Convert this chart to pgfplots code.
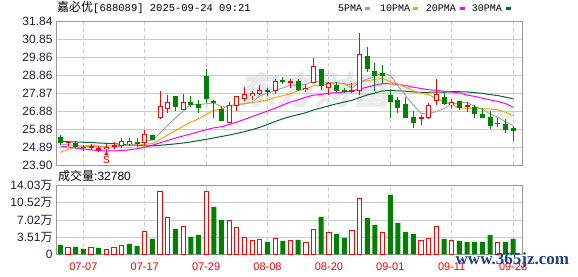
\documentclass[border=0pt]{standalone}
\usepackage{fontspec}
\usepackage{pgfplots}
\pgfplotsset{compat=1.18}
\usepackage{pgfplotstable}
\setmainfont{Liberation Sans}
\newfontfamily\cjk{Noto Sans CJK SC}
\newfontfamily\mono{Liberation Mono}
\newfontfamily\wmfont[FakeSlant=0.2]{Noto Sans CJK SC}
\newfontfamily\serifb{Liberation Serif}
\definecolor{kred}{HTML}{FF0000}
\definecolor{kgreen}{HTML}{008000}
\definecolor{ma5c}{HTML}{A0A0A0}
\definecolor{ma10c}{HTML}{FFA500}
\definecolor{ma20c}{HTML}{FF00FF}
\definecolor{ma30c}{HTML}{006633}
\definecolor{gridc}{HTML}{CCCCCC}
\definecolor{framec}{HTML}{999999}
\definecolor{labc}{HTML}{1E1E3C}
\definecolor{wmc}{HTML}{EAEAEE}
\definecolor{jzc}{HTML}{1F3F7F}

\pgfplotstableread{
i o h l c v vu cu ma5 ma10 ma20 ma30
0 25.45 25.56 25.01 25.16 1.91 0 0 25.06 24.60 24.95 25.20
1 25.12 25.25 24.95 25.18 1.43 1 1 25.02 24.76 24.90 25.19
2 25.10 25.25 24.84 24.92 1.50 0 0 24.98 24.88 24.84 25.18
3 24.90 25.03 24.68 24.84 1.09 0 0 24.95 24.92 24.79 25.16
4 24.88 25.06 24.73 24.93 1.43 1 1 25.01 24.94 24.74 25.15
5 24.75 24.97 24.62 24.80 1.30 0 1 24.93 24.95 24.70 25.12
6 24.79 25.10 24.64 24.90 1.02 1 1 24.88 24.95 24.68 25.10
7 24.92 25.16 24.77 24.97 1.30 1 1 24.89 24.96 24.68 25.08
8 24.97 25.40 24.84 25.21 1.84 1 1 24.96 24.98 24.70 25.05
9 25.07 25.40 24.95 25.19 2.11 0 1 25.02 25.01 24.74 25.01
10 25.17 25.40 24.92 25.08 1.70 0 0 25.07 25.00 24.80 24.98
11 25.14 25.84 25.01 25.60 4.57 1 1 25.21 25.05 24.88 24.96
12 25.54 25.56 25.28 25.32 3.14 0 0 25.28 25.09 25.00 24.96
13 26.50 28.00 26.47 27.15 12.88 1 1 25.67 25.32 25.13 24.99
14 27.04 27.76 26.80 27.39 7.57 1 1 26.11 25.56 25.26 25.03
15 27.70 27.72 26.91 27.13 5.18 0 0 26.52 25.80 25.39 25.07
16 26.98 27.83 26.95 27.39 5.73 1 1 26.88 26.05 25.51 25.12
17 27.39 27.70 27.11 27.26 3.54 0 0 27.26 26.27 25.62 25.18
18 27.26 27.48 26.80 27.09 3.95 0 0 27.25 26.46 25.74 25.25
19 28.83 29.22 27.33 27.57 12.88 1 0 27.29 26.70 25.85 25.32
20 27.43 27.50 26.52 27.37 9.68 0 0 27.34 26.93 25.96 25.40
21 26.98 27.17 26.32 26.36 7.02 0 0 27.13 27.00 26.02 25.48
22 26.24 27.41 26.24 27.22 6.95 1 1 27.12 27.19 26.14 25.56
23 27.20 27.72 26.91 27.70 5.39 1 1 27.24 27.25 26.28 25.65
24 27.57 28.24 27.44 27.83 3.48 1 1 27.30 27.29 26.43 25.75
25 27.74 28.02 27.50 27.85 2.73 1 1 27.39 27.36 26.58 25.86
26 27.87 28.33 27.76 28.05 3.07 1 1 27.73 27.43 26.74 25.99
27 28.05 28.17 27.72 27.94 2.52 0 0 27.87 27.50 26.89 26.15
28 28.02 28.65 27.85 28.53 3.27 1 1 28.04 27.64 27.05 26.31
29 28.61 28.77 28.37 28.52 2.73 0 0 28.17 27.74 27.22 26.46
30 28.50 28.65 28.15 28.55 2.73 1 1 28.32 27.85 27.39 26.59
31 28.53 28.65 28.02 28.09 2.93 0 0 28.33 28.03 27.51 26.69
32 28.05 28.37 27.94 28.17 2.32 1 1 28.37 28.12 27.66 26.80
33 28.48 29.85 28.42 29.38 5.11 1 1 28.54 28.29 27.77 26.95
34 29.20 29.20 28.07 28.31 7.63 0 0 28.50 28.34 27.81 27.06
35 28.20 28.52 27.76 28.42 4.36 1 1 28.47 28.40 27.88 27.18
36 28.33 28.52 27.94 28.00 4.16 0 0 28.46 28.39 27.91 27.29
37 28.04 28.17 27.87 27.96 3.34 0 0 28.41 28.39 27.94 27.39
38 28.00 28.42 27.91 28.05 4.91 1 1 28.15 28.35 27.99 27.48
39 28.02 31.21 27.78 30.03 11.45 1 1 28.49 28.50 28.12 27.64
40 29.94 30.45 29.07 29.24 7.43 0 0 28.66 28.57 28.21 27.78
41 29.11 29.57 27.98 28.83 6.00 0 0 28.82 28.64 28.33 27.89
42 29.00 29.44 28.42 28.85 4.36 1 0 29.00 28.71 28.41 28.01
43 27.76 28.09 26.52 27.41 12.13 0 0 28.87 28.51 28.40 28.02
44 27.46 27.69 26.76 27.09 6.41 0 0 28.28 28.39 28.36 28.01
45 27.28 27.69 26.52 26.52 4.57 0 0 27.74 28.20 28.30 27.99
46 26.56 26.89 25.97 26.24 4.16 0 0 27.22 28.02 28.21 27.95
47 26.50 26.67 26.13 26.56 2.73 1 1 26.76 27.88 28.14 27.92
48 26.50 27.32 26.45 27.20 3.27 1 1 26.72 27.80 28.07 27.93
49 27.46 28.66 27.22 27.83 5.73 1 1 26.87 27.58 28.04 27.94
50 27.67 27.91 27.22 27.32 3.14 0 0 27.03 27.39 27.98 27.93
51 27.22 27.57 27.02 27.37 2.73 1 1 27.26 27.24 27.94 27.97
52 27.41 27.45 26.95 27.09 2.73 0 0 27.36 27.06 27.89 27.96
53 27.17 27.41 26.85 27.22 2.52 0 1 27.37 27.04 27.78 27.95
54 27.09 27.20 26.52 26.76 2.52 0 0 27.15 27.01 27.70 27.91
55 26.72 27.04 26.52 26.52 2.52 0 0 26.99 27.01 27.60 27.87
56 26.56 26.89 25.91 26.08 3.95 0 0 26.73 27.00 27.51 27.80
57 26.17 26.52 25.99 26.23 2.32 1 1 26.56 26.96 27.42 27.75
58 26.17 26.43 25.69 25.84 2.52 0 0 26.29 26.83 27.31 27.66
59 25.91 26.06 25.25 25.82 3.14 0 0 26.10 26.63 27.10 27.57
}\kdata

\pgfplotsset{
  kax/.style={
    scale only axis, width=465.8pt, xmin=-0.5, xmax=60.2,
    axis line style={draw=framec, line width=1pt},
    tick style={draw=none}, major tick length=0pt,
    xtick={3,11,19,27,35,43,51,59},
    xmajorgrids, ymajorgrids,
    x grid style={dash pattern=on 4pt off 3pt, draw=gridc, line width=1pt},
    y grid style={draw=gridc, line width=1pt},
    tick label style={font=\fontsize{12}{12}\selectfont},
    yticklabel style={anchor=east, inner sep=0pt, xshift=-3.8pt, text=labc},
  }
}

\begin{document}
\begin{tikzpicture}
\useasboundingbox (0,0) rectangle (578pt,276pt);
% watermark
\node[anchor=center, inner sep=0, text=wmc] at (314pt,186pt) {\wmfont\bfseries\fontsize{38}{38}\selectfont 东方财富};

\begin{axis}[kax, at={(56.5pt,111pt)}, anchor=south west, height=143.3pt,
  ymin=23.90, ymax=31.84,
  ytick={23.90,24.8925,25.885,26.8775,27.87,28.8625,29.855,30.8475,31.84},
  yticklabels={23.90,24.89,25.88,26.88,27.87,28.86,29.86,30.85,31.84},
  xticklabels={{},{},{},{},{},{},{},{}}]
% MA lines
\addplot[ma30c, line width=1pt, mark=none] table[x=i, y=ma30]{\kdata};
\addplot[ma20c, line width=1pt, mark=none] table[x=i, y=ma20]{\kdata};
\addplot[ma10c, line width=1pt, mark=none] table[x=i, y=ma10]{\kdata};
\addplot[ma5c, line width=0.9pt, mark=none] table[x=i, y=ma5]{\kdata};
% falling candles
\addplot[draw=none, mark=none, restrict expr to domain={\thisrow{cu}}{0:0},
  error bars/.cd, y dir=both, y explicit, error mark=none,
  error bar style={draw=kgreen, line width=1pt, solid}]
  table[x=i, y expr={(\thisrow{h}+\thisrow{l})/2}, y error expr={(\thisrow{h}-\thisrow{l})/2}]{\kdata};
\addplot[draw=none, mark=none, restrict expr to domain={\thisrow{cu}}{0:0},
  error bars/.cd, y dir=both, y explicit, error mark=none,
  error bar style={draw=kgreen, line width=5pt, solid}]
  table[x=i, y expr={(\thisrow{o}+\thisrow{c})/2}, y error expr={abs(\thisrow{c}-\thisrow{o})/2+0.02}]{\kdata};
% rising candles
\addplot[draw=none, mark=none, restrict expr to domain={\thisrow{cu}}{1:1},
  error bars/.cd, y dir=both, y explicit, error mark=none,
  error bar style={draw=kred, line width=1pt, solid}]
  table[x=i, y expr={(\thisrow{h}+\thisrow{l})/2}, y error expr={(\thisrow{h}-\thisrow{l})/2}]{\kdata};
\addplot[draw=none, mark=none, restrict expr to domain={\thisrow{cu}}{1:1},
  error bars/.cd, y dir=both, y explicit, error mark=none,
  error bar style={draw=kred, line width=5pt, solid}]
  table[x=i, y expr={(\thisrow{o}+\thisrow{c})/2}, y error expr={abs(\thisrow{c}-\thisrow{o})/2+0.02}]{\kdata};
\addplot[draw=none, mark=none, restrict expr to domain={\thisrow{cu}}{1:1},
  error bars/.cd, y dir=both, y explicit, error mark=none,
  error bar style={draw=white, line width=3pt, solid}]
  table[x=i, y expr={(\thisrow{o}+\thisrow{c})/2}, y error expr={max(abs(\thisrow{c}-\thisrow{o})/2-0.035,0)}]{\kdata};
% S marker
\addplot[only marks, mark=triangle*, mark size=2pt, kred,
  nodes near coords={S}, nodes near coords align={below},
  every node near coord/.append style={inner sep=0pt, yshift=-2.5pt, text=kred, font=\mono\fontsize{11}{11}\selectfont}]
  coordinates {(6,24.52)};
\end{axis}

\begin{axis}[kax, at={(56.5pt,21.7pt)}, anchor=south west, height=68.6pt,
  ymin=0, ymax=14.03,
  ytick={0,3.5075,7.015,10.5225,14.03},
  yticklabels={0,3.51{\cjk 万},7.02{\cjk 万},10.52{\cjk 万},14.03{\cjk 万}},
  xticklabels={07-07,07-17,07-29,08-08,08-20,09-01,09-11,09-23},
  xticklabel style={anchor=north, inner sep=0pt, yshift=-8.2pt, text=kred, font=\fontsize{11}{11}\selectfont}]
\addplot[ybar, bar width=5pt, bar shift=0pt, fill=kgreen, draw=none,
  restrict expr to domain={\thisrow{vu}}{0:0}] table[x=i, y=v]{\kdata};
\addplot[ybar, bar width=4.2pt, bar shift=0pt, fill=white, draw=kred, line width=1pt,
  restrict expr to domain={\thisrow{vu}}{1:1}] table[x=i, y=v]{\kdata};
\end{axis}

% title
\node[anchor=base west, inner sep=0] at (57pt,264.3pt)
  {{\cjk\fontsize{12}{12}\selectfont 嘉必优}{\mono\fontsize{10.5}{12}\selectfont[688089] 2025-09-24 09:21}};
% legend
\node[anchor=base west, inner sep=0, font=\mono\fontsize{10}{12}\selectfont] at (338pt,264pt) {5PMA};
\fill[ma5c] (365.3pt,266pt) rectangle (370.3pt,268.6pt);
\node[anchor=base west, inner sep=0, font=\mono\fontsize{10}{12}\selectfont] at (380pt,264pt) {10PMA};
\fill[ma10c] (413.3pt,266pt) rectangle (418.3pt,268.6pt);
\node[anchor=base west, inner sep=0, font=\mono\fontsize{10}{12}\selectfont] at (425.7pt,264pt) {20PMA};
\fill[ma20c] (460pt,266pt) rectangle (465pt,268.6pt);
\node[anchor=base west, inner sep=0, font=\mono\fontsize{10}{12}\selectfont] at (471.7pt,264pt) {30PMA};
\fill[ma30c] (505.7pt,266pt) rectangle (510.7pt,268.6pt);
% volume caption
\node[anchor=base west, inner sep=0] at (58pt,95.5pt)
  {{\cjk\fontsize{12}{12}\selectfont 成交量}{\fontsize{12}{12}\selectfont :32780}};
% site watermark
\node[anchor=base west, inner sep=0, text=jzc] at (455.5pt,11.5pt)
  {\serifb\bfseries\fontsize{17}{17}\selectfont www.365jz.com};
\end{tikzpicture}
\end{document}
